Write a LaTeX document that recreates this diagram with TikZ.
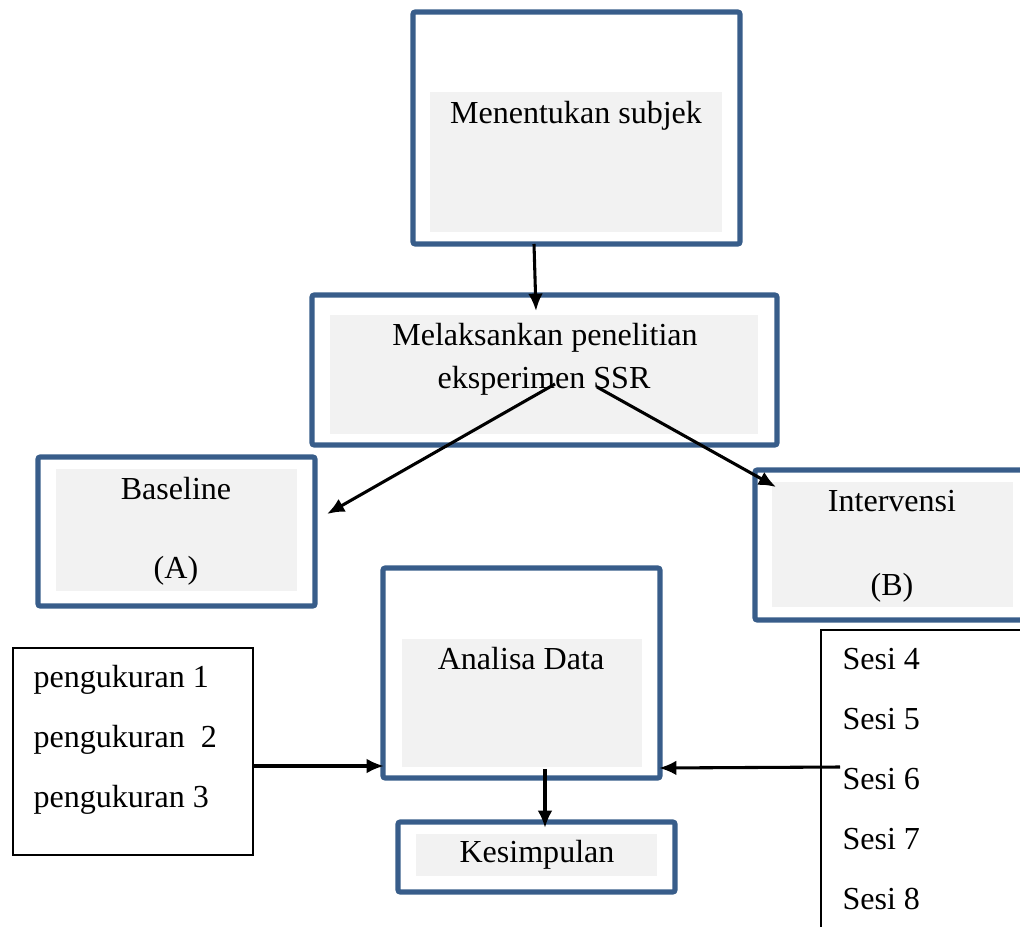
\documentclass[tikz,border=0pt]{standalone}
\usepackage{fontspec}
\setmainfont{Liberation Serif}
\usepackage{tikz}
\usetikzlibrary{arrows.meta,fit}

\definecolor{boxblue}{RGB}{56,93,138}
\definecolor{boxgray}{RGB}{242,242,242}

\tikzset{
  bluebox/.style={draw=boxblue, line width=1.9pt, rounded corners=0.8pt, inner sep=0pt},
  graybox/.style={fill=boxgray, inner sep=0pt},
  listbox/.style={draw=black, line width=0.8pt, inner sep=0pt},
  boxtext/.style={anchor=base, inner sep=0pt, font=\fontsize{12}{14}\selectfont},
  listtext/.style={anchor=base west, inner sep=0pt, font=\fontsize{12}{14}\selectfont},
  flow/.style={-{Latex[length=6.5pt,width=5.5pt]}, line width=1.15pt}
}

\begin{document}
\begin{tikzpicture}[x=0.3743pt, y=-0.3743pt]
\useasboundingbox (0,0) rectangle (1020,927);
\clip (0,0) rectangle (1020,927);

\node[bluebox, fit={(413,12) (740,244)}] (subjek) {};
\node[graybox, fit={(430,92) (722,232)}] (subjek-in) {};
\node[boxtext] (subjek-txt) at (576,123) {Menentukan subjek};

\node[bluebox, fit={(312,295) (777,445)}] (ssr) {};
\node[graybox, fit={(330,315) (758,434)}] (ssr-in) {};
\node[boxtext] (ssr-txt1) at (545,345) {Melaksankan penelitian};
\node[boxtext] (ssr-txt2) at (544,388) {eksperimen SSR};

\node[bluebox, fit={(38,457) (315,606)}] (baseline) {};
\node[graybox, fit={(56,469) (297,591)}] (baseline-in) {};
\node[boxtext] (baseline-txt) at (176,499) {Baseline};
\node[boxtext] (baseline-lbl) at (176,578) {(A)};

\node[bluebox, fit={(755,470) (1040,620)}] (intervensi) {};
\node[graybox, fit={(772,482) (1013,607)}] (intervensi-in) {};
\node[boxtext] (intervensi-txt) at (892,511) {Intervensi};
\node[boxtext] (intervensi-lbl) at (892,595) {(B)};

\node[bluebox, fit={(383,568) (660,778)}] (analisa) {};
\node[graybox, fit={(402,639) (642,767)}] (analisa-in) {};
\node[boxtext] (analisa-txt) at (521,669) {Analisa Data};

\node[bluebox, fit={(398,822) (675,892)}] (kesimpulan) {};
\node[graybox, fit={(416,834) (657,876)}] (kesimpulan-in) {};
\node[boxtext] (kesimpulan-txt) at (537,862) {Kesimpulan};

\node[listbox, fit={(13,648) (253,855)}] (ukur) {};
\node[listtext] (ukur1) at (33,687) {pengukuran 1};
\node[listtext] (ukur2) at (33,747) {pengukuran\ \ 2};
\node[listtext] (ukur3) at (33,807) {pengukuran 3};

\node[listbox, fit={(821,630) (1040,950)}] (sesi) {};
\node[listtext] (sesi4) at (842,669) {Sesi 4};
\node[listtext] (sesi5) at (842,729) {Sesi 5};
\node[listtext] (sesi6) at (842,789) {Sesi 6};
\node[listtext] (sesi7) at (842,849) {Sesi 7};
\node[listtext] (sesi8) at (842,909) {Sesi 8};

\coordinate (subjek-out) at (534,244);
\coordinate (ssr-in-pt) at (536,311);
\coordinate (ssr-outa) at (555,384);
\coordinate (ssr-outb) at (597,387);
\coordinate (baseline-pt) at (327,514);
\coordinate (intervensi-pt) at (776,487);
\coordinate (ukur-out) at (253,766);
\coordinate (analisa-l) at (384,766);
\coordinate (sesi-out) at (840,767);
\coordinate (analisa-r) at (659,768);
\coordinate (analisa-out) at (545,769);
\coordinate (kesimpulan-pt) at (545,828);

\draw[flow] (subjek-out) -- (ssr-in-pt);
\draw[flow] (ssr-outa) -- (baseline-pt);
\draw[flow] (ssr-outb) -- (intervensi-pt);
\draw[flow] (ukur-out) -- (analisa-l);
\draw[flow] (sesi-out) -- (analisa-r);
\draw[flow] (analisa-out) -- (kesimpulan-pt);

\end{tikzpicture}
\end{document}
